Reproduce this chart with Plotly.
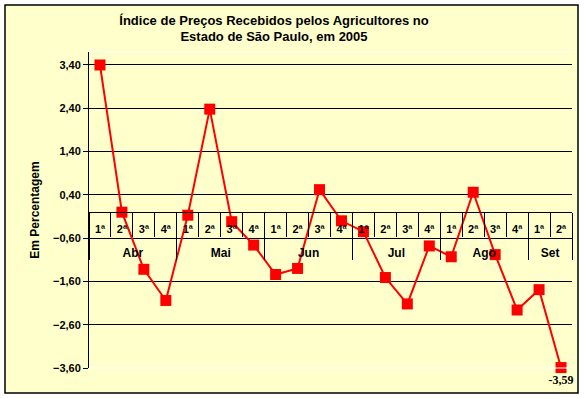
import plotly.graph_objects as go

meses = ["Abr", "Mai", "Jun", "Jul", "Ago", "Set"]
semanas_por_mes = [4, 4, 4, 4, 4, 2]
semanas = ["1ª", "2ª", "3ª", "4ª", "1ª", "2ª", "3ª", "4ª", "1ª", "2ª", "3ª", "4ª",
           "1ª", "2ª", "3ª", "4ª", "1ª", "2ª", "3ª", "4ª", "1ª", "2ª"]
valores = [3.40, 0.00, -1.32, -2.04, -0.07, 2.38, -0.22, -0.76, -1.44, -1.30, 0.52, -0.20,
           -0.45, -1.51, -2.12, -0.78, -1.03, 0.46, -0.98, -2.26, -1.79, -3.59]
y_ticks = [3.40, 2.40, 1.40, 0.40, -0.60, -1.60, -2.60, -3.60]

n = len(valores)
xs = list(range(n))
y_min, y_max = -3.6, 3.7

# month centers and boundaries derived from the week counts
bounds = [-0.5]
centers = []
start = 0
for k in semanas_por_mes:
    centers.append(start + (k - 1) / 2)
    start += k
    bounds.append(start - 0.5)
week_bounds = [i - 0.5 for i in range(n + 1)]

texts = [""] * n
texts[-1] = f"{valores[-1]:.2f}".replace(".", ",")

BG = "#FFFFCC"
FONT = "Liberation Sans"

fig = go.Figure()
fig.add_trace(go.Scatter(
    x=xs, y=valores, mode="lines+markers+text",
    line=dict(color="#FF0000", width=2),
    marker=dict(symbol="square", size=11, color="#FF0000"),
    text=texts, textposition="bottom center",
    textfont=dict(family="Liberation Serif", size=12, color="black", weight="bold"),
    cliponaxis=False, showlegend=False, hoverinfo="skip",
))
# invisible trace to activate the month axis
fig.add_trace(go.Scatter(x=[xs[0]], y=[valores[0]], xaxis="x2", mode="markers",
                         marker=dict(opacity=0), showlegend=False, hoverinfo="skip"))

pos0 = (0 - y_min) / (y_max - y_min)

fig.update_layout(
    width=584, height=399,
    margin=dict(l=89, r=12, t=52, b=31),
    paper_bgcolor="white", plot_bgcolor=BG,
    separators=",.",
    font=dict(family=FONT, color="black"),
    title=dict(text="Índice de Preços Recebidos pelos Agricultores no<br>Estado de São Paulo, em 2005",
               x=274 / 584, xref="container", xanchor="center",
               y=1 - 24.5 / 399, yref="container", yanchor="middle",
               font=dict(family=FONT, size=13, color="black", weight="bold")),
    xaxis=dict(range=[-0.5, n - 0.5], anchor="free", position=pos0,
               tickmode="array", tickvals=xs, ticktext=semanas,
               ticks="", showgrid=False, zeroline=False,
               showline=True, linecolor="black", linewidth=1,
               tickfont=dict(family=FONT, size=11, color="black", weight="bold"),
               ticklabelstandoff=7,
               minor=dict(tickmode="array", tickvals=week_bounds,
                          ticks="outside", ticklen=24, tickcolor="black", tickwidth=1, showgrid=False)),
    xaxis2=dict(range=[-0.5, n - 0.5], overlaying="x", anchor="free", position=pos0,
                side="bottom", tickmode="array", tickvals=centers, ticktext=meses,
                ticks="", showgrid=False, zeroline=False, showline=False,
                tickfont=dict(family=FONT, size=12, color="black", weight="bold"),
                ticklabelstandoff=32,
                minor=dict(tickmode="array", tickvals=bounds,
                           ticks="outside", ticklen=47, tickcolor="black", tickwidth=1, showgrid=False)),
    yaxis=dict(range=[y_min, y_max], tickmode="array", tickvals=y_ticks,
               tickformat=".2f", ticks="outside", ticklen=5, tickcolor="black",
               showline=True, linecolor="black", linewidth=1,
               showgrid=True, gridcolor="black", gridwidth=1, zeroline=False,
               tickfont=dict(family=FONT, size=11, color="black", weight="bold"),
               title=dict(text="Em Percentagem", standoff=10,
                          font=dict(family=FONT, size=12, color="black", weight="bold"))),
    shapes=[
        dict(type="rect", xref="paper", yref="paper",
             x0=(5 - 89) / 483, x1=(578 - 89) / 483,
             y0=(368 - 393) / 316, y1=(368 - 5) / 316,
             line=dict(color="black", width=1.5), fillcolor=BG, layer="below"),
        dict(type="line", xref="paper", yref="paper", x0=0, x1=1, y0=1, y1=1,
             line=dict(color="white", width=1)),
        dict(type="line", xref="paper", yref="paper", x0=0, x1=1, y0=0, y1=0,
             line=dict(color="white", width=1)),
    ],
)

fig.write_html("out.html", config={"displayModeBar": False},
               post_script="document.body.style.margin='0';")
